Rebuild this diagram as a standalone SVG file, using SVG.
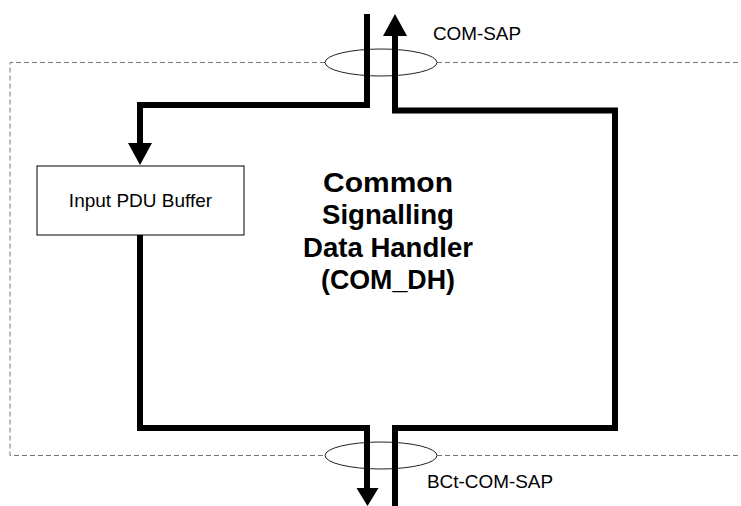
<svg xmlns="http://www.w3.org/2000/svg" width="741" height="506" viewBox="0 0 741 506">
  <style>
    .dash { fill: none; stroke: #777; stroke-width: 1; stroke-dasharray: 5,3; }
    .sap { fill: none; stroke: #222; stroke-width: 1; }
    .flow { fill: none; stroke: #000; stroke-width: 6; stroke-linejoin: miter; stroke-linecap: butt; }
    .head { fill: #000; stroke: none; }
    .lbl { font-family: "Liberation Sans", Arial, sans-serif; font-size: 18px; fill: #000; }
    .title { font-family: "Liberation Sans", Arial, sans-serif; font-size: 28px; font-weight: bold; fill: #000; text-anchor: middle; }
  </style>
  <rect width="741" height="506" fill="#fff"/>

  <g id="boundary">
    <path class="dash" d="M325,62.5 H10 V455.5 H325"/>
    <path class="dash" d="M437,62.5 H741"/>
    <path class="dash" d="M437,455.5 H741"/>
  </g>

  <g id="sap-top">
    <ellipse class="sap" cx="381" cy="62.5" rx="56" ry="13.5"/>
    <text class="lbl" x="433" y="40" textLength="88" lengthAdjust="spacingAndGlyphs">COM-SAP</text>
  </g>

  <g id="sap-bottom">
    <ellipse class="sap" cx="381" cy="455.5" rx="56" ry="13.5"/>
    <text class="lbl" x="427" y="488" textLength="126" lengthAdjust="spacingAndGlyphs">BCt-COM-SAP</text>
  </g>

  <g id="input-buffer">
    <rect x="37" y="166" width="207" height="69" fill="#fff" stroke="#000" stroke-width="1"/>
    <text class="lbl" x="140.5" y="206.5" text-anchor="middle" style="font-size:19px">Input PDU Buffer</text>
  </g>

  <g id="com-dh">
    <text class="title" x="388" y="191.5" textLength="130" lengthAdjust="spacingAndGlyphs">Common</text>
    <text class="title" x="388" y="224" textLength="132" lengthAdjust="spacingAndGlyphs">Signalling</text>
    <text class="title" x="388" y="256.5" textLength="170" lengthAdjust="spacingAndGlyphs">Data Handler</text>
    <text class="title" x="388" y="289" textLength="134" lengthAdjust="spacingAndGlyphs">(COM_DH)</text>
  </g>

  <g id="connectors">
    <path class="flow" d="M367,14 V105 H140 V144"/>
    <polygon class="head" points="128,143 152,143 140,165"/>
    <path class="flow" d="M140,235 V428 H367 V489"/>
    <polygon class="head" points="356.5,488 378.5,488 367.5,506"/>
    <path class="flow" d="M395,506 V428 H615 V110.5 H395 V35"/>
    <polygon class="head" points="383,36 407,36 395,14"/>
  </g>
</svg>
